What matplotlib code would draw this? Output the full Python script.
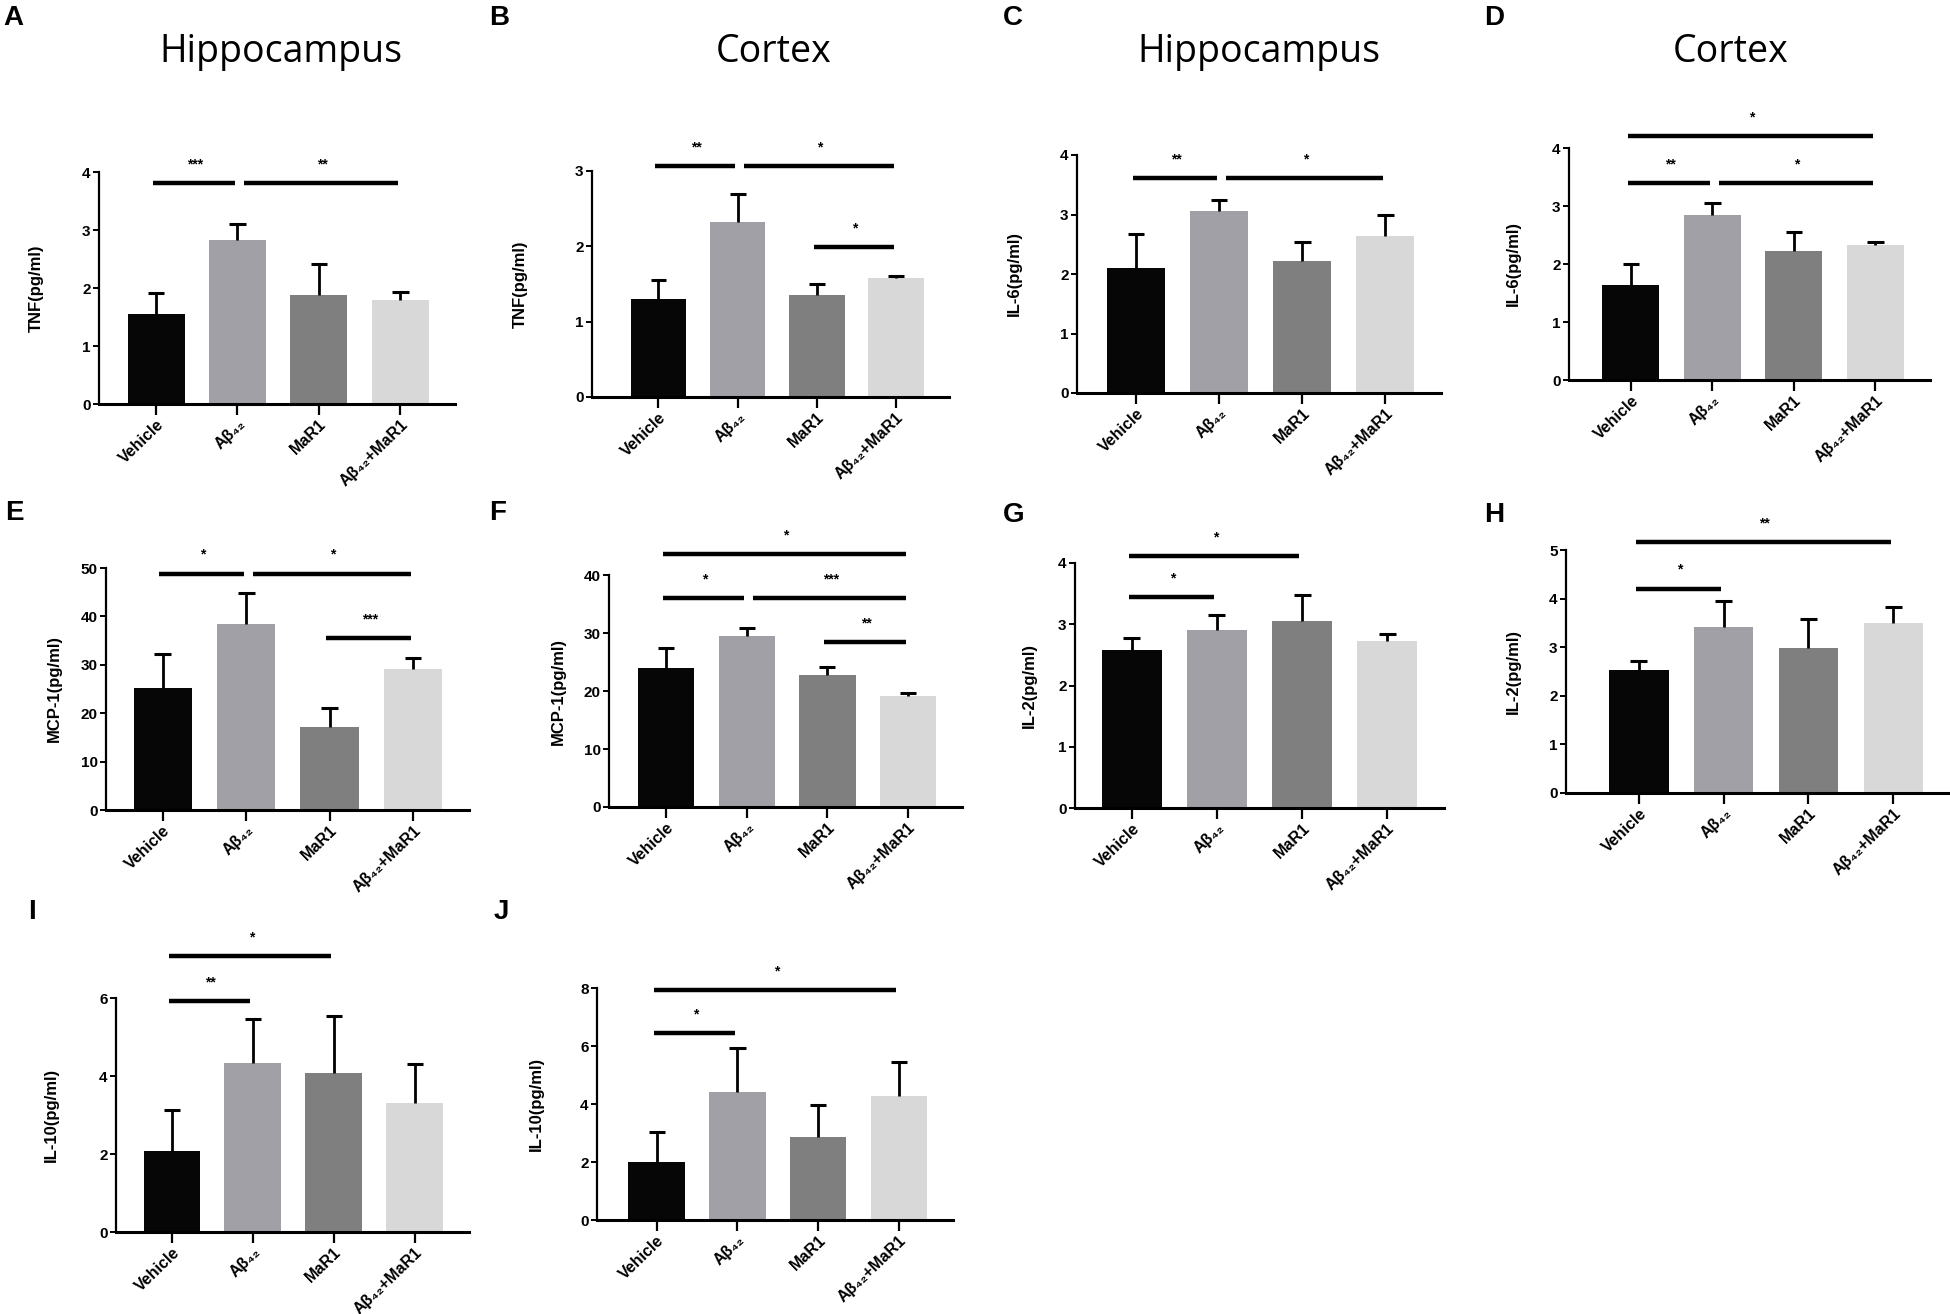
import matplotlib.pyplot as plt
import numpy as np

plt.rcParams['font.family'] = ['Liberation Sans', 'DejaVu Sans']

groups = ['Vehicle', 'Aβ₄₂', 'MaR1', 'Aβ₄₂+MaR1']
bar_colors = ['#060606', '#a0a0a6', '#7f7f7f', '#d8d8d8']

# A  TNF hippocampus
tnf_hip = [1.55, 2.82, 1.88, 1.80]
tnf_hip_sd = [0.36, 0.28, 0.54, 0.13]
tnf_hip_sig = [(0, 1, 3.81, '***'), (1, 3, 3.81, '**')]
# B  TNF cortex
tnf_ctx = [1.30, 2.32, 1.36, 1.58]
tnf_ctx_sd = [0.25, 0.38, 0.14, 0.02]
tnf_ctx_sig = [(0, 1, 3.07, '**'), (1, 3, 3.07, '*'), (2, 3, 1.99, '*')]
# C  IL-6 hippocampus
il6_hip = [2.10, 3.06, 2.22, 2.64]
il6_hip_sd = [0.57, 0.18, 0.32, 0.36]
il6_hip_sig = [(0, 1, 3.61, '**'), (1, 3, 3.61, '*')]
# D  IL-6 cortex
il6_ctx = [1.63, 2.84, 2.22, 2.33]
il6_ctx_sd = [0.37, 0.21, 0.33, 0.05]
il6_ctx_sig = [(0, 1, 3.40, '**'), (1, 3, 3.40, '*'), (0, 3, 4.21, '*')]
# E  MCP-1 hippocampus
mcp_hip = [25.3, 38.4, 17.2, 29.2]
mcp_hip_sd = [7.0, 6.4, 3.8, 2.3]
mcp_hip_sig = [(0, 1, 48.8, '*'), (1, 3, 48.8, '*'), (2, 3, 35.5, '***')]
# F  MCP-1 cortex
mcp_ctx = [24.0, 29.5, 22.7, 19.2]
mcp_ctx_sd = [3.5, 1.3, 1.5, 0.5]
mcp_ctx_sig = [(0, 1, 36.0, '*'), (1, 3, 36.0, '***'), (2, 3, 28.4, '**'),
               (0, 3, 43.6, '*')]
# G  IL-2 hippocampus
il2_hip = [2.58, 2.91, 3.05, 2.72]
il2_hip_sd = [0.19, 0.24, 0.42, 0.12]
il2_hip_sig = [(0, 1, 3.44, '*'), (0, 2, 4.11, '*')]
# H  IL-2 cortex
il2_ctx = [2.53, 3.42, 2.98, 3.50]
il2_ctx_sd = [0.19, 0.53, 0.60, 0.33]
il2_ctx_sig = [(0, 1, 4.20, '*'), (0, 3, 5.16, '**')]
# I  IL-10 hippocampus
il10_hip = [2.08, 4.33, 4.08, 3.30]
il10_hip_sd = [1.05, 1.12, 1.47, 1.00]
il10_hip_sig = [(0, 1, 5.92, '**'), (0, 2, 7.08, '*')]
# J  IL-10 cortex
il10_ctx = [2.00, 4.43, 2.87, 4.28]
il10_ctx_sd = [1.03, 1.49, 1.10, 1.17]
il10_ctx_sig = [(0, 1, 6.45, '*'), (0, 3, 7.93, '*')]

panels = [
    ('A', 'Hippocampus', 'TNF(pg/ml)', tnf_hip, tnf_hip_sd, tnf_hip_sig, 4, 1),
    ('B', 'Cortex', 'TNF(pg/ml)', tnf_ctx, tnf_ctx_sd, tnf_ctx_sig, 3, 1),
    ('C', 'Hippocampus', 'IL-6(pg/ml)', il6_hip, il6_hip_sd, il6_hip_sig, 4, 1),
    ('D', 'Cortex', 'IL-6(pg/ml)', il6_ctx, il6_ctx_sd, il6_ctx_sig, 4, 1),
    ('E', None, 'MCP-1(pg/ml)', mcp_hip, mcp_hip_sd, mcp_hip_sig, 50, 10),
    ('F', None, 'MCP-1(pg/ml)', mcp_ctx, mcp_ctx_sd, mcp_ctx_sig, 40, 10),
    ('G', None, 'IL-2(pg/ml)', il2_hip, il2_hip_sd, il2_hip_sig, 4, 1),
    ('H', None, 'IL-2(pg/ml)', il2_ctx, il2_ctx_sd, il2_ctx_sig, 5, 1),
    ('I', None, 'IL-10(pg/ml)', il10_hip, il10_hip_sd, il10_hip_sig, 6, 2),
    ('J', None, 'IL-10(pg/ml)', il10_ctx, il10_ctx_sd, il10_ctx_sig, 8, 2),
]

# layout in pixels: y-axis x, x-axis end, zero y, top tick y, left pad,
# ylabel offset, letter x, letter y, title x
W, H = 1950, 1314
layout = [
    (99, 455, 404, 172, 0.70, -55, 3, 18, 281),
    (592, 949, 397, 171, 0.84, -64, 489, 18, 774),
    (1077, 1441, 393, 155, 0.71, -55, 1003, 18, 1259),
    (1569, 1930, 380, 148, 0.76, -48, 1484, 18, 1731),
    (106, 469, 810, 568, 0.68, -44, 5, 513, None),
    (609, 962, 807, 575, 0.71, -43, 489, 513, None),
    (1075, 1444, 808, 563, 0.67, -38, 1003, 515, None),
    (1566, 1950, 793, 550, 0.86, -45, 1484, 515, None),
    (116, 469, 1232, 998, 0.69, -57, 28, 912, None),
    (597, 953, 1220, 988, 0.74, -53, 494, 912, None),
]

fig = plt.figure(figsize=(W / 100, H / 100), dpi=100)
x = np.arange(len(groups))

for (letter, title, ylab, vals, sds, sig, ymax, ystep), lay in zip(panels, layout):
    x0, x1, yz, yt, lpad, yoff, lx, ly, tx = lay
    ax = fig.add_axes([x0 / W, 1 - yz / H, (x1 - x0) / W, (yz - yt) / H])
    ax.set_xlim(-lpad, 3.67)
    ax.set_ylim(0, ymax)

    ax.bar(x, vals, 0.7, color=bar_colors, zorder=2)
    tops = np.array(vals) + np.array(sds)
    ax.vlines(x, vals, tops, color='black', lw=2, zorder=3)
    ax.hlines(tops, x - 0.1, x + 0.1, color='black', lw=2.2, zorder=3)

    for i, j, y, stars in sig:
        xs = i + 0.08 if i == 1 else i - 0.04
        ax.plot([xs, j - 0.03], [y, y], color='black', lw=3.2,
                clip_on=False, solid_capstyle='butt')
        ax.text((xs + j) / 2, y + 0.05 * ymax, stars, ha='center',
                va='bottom', fontsize=10, fontweight='bold', clip_on=False)

    for s in ['top', 'right']:
        ax.spines[s].set_visible(False)
    ax.spines['left'].set_linewidth(1.6)
    ax.spines['bottom'].set_linewidth(2.2)
    ax.set_yticks(np.arange(0, ymax + ystep / 2, ystep))
    ax.tick_params(axis='y', length=4, width=1.4, labelsize=11, pad=2)
    ax.tick_params(axis='x', length=8, width=1.6, pad=1)
    for t in ax.get_yticklabels():
        t.set_fontweight('bold')
    ax.set_xticks(x)
    ax.set_xticklabels(groups, rotation=44, ha='right', va='top',
                       rotation_mode='anchor', fontsize=11.5,
                       fontweight='bold')

    ax.set_ylabel(ylab, fontsize=12, fontweight='bold')
    ax.yaxis.set_label_coords(yoff / (x1 - x0), ymax / 2,
                              transform=ax.get_yaxis_transform())

    fig.text(lx / W, 1 - ly / H, letter, fontsize=20, fontweight='bold',
             ha='left', va='center')
    if title:
        fig.text(tx / W, 1 - 52 / H, title, fontsize=27, ha='center',
                 va='center', family=['Open Sans', 'DejaVu Sans'])

plt.savefig('out.png', dpi=100)
